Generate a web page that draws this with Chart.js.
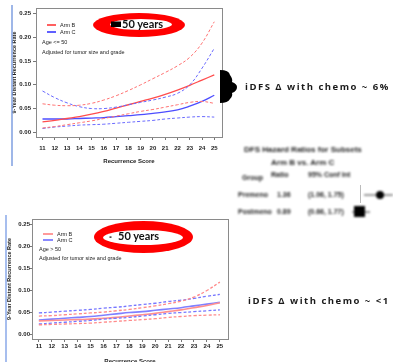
<!DOCTYPE html>
<html>
<head>
<meta charset="utf-8">
<script src="https://cdn.jsdelivr.net/npm/chart.js"></script>
<style>
  body { margin: 0; width: 393px; height: 362px; overflow: hidden; background: #fff; position: relative;
         font-family: "Liberation Sans", Arial, sans-serif; }
  .abs { position: absolute; white-space: nowrap; }
  .note { font-size: 5.5px; line-height: 6px; color: #222; }
  .key { position: absolute; height: 1.5px; }
  .age { font-family: Lato, "Open Sans", sans-serif; font-weight: bold; font-size: 11px; line-height: 12px; color: #111; }
  .idfs { font-family: "Open Sans", sans-serif; font-weight: bold; font-size: 9.5px; line-height: 12px;
          letter-spacing: 1.5px; color: #1a1a1a; }
  .blur { filter: blur(1.3px); font-weight: bold; font-size: 7px; line-height: 8px; color: #222; }
  .blur.big { font-size: 8px; }
</style>
</head>
<body>

<div class="abs" style="left:0;top:0"><canvas id="youngChart" width="240" height="170"></canvas></div>
<div class="abs" style="left:0;top:210px"><canvas id="olderChart" width="240" height="160"></canvas></div>

<svg class="abs" style="left:0;top:0" width="393" height="362">
  <line x1="12" y1="5" x2="12" y2="166" stroke="#7f9fe0" stroke-width="1.5"/>
  <line x1="6" y1="215" x2="6" y2="362" stroke="#8aa8e8" stroke-width="1.5"/>
  <ellipse cx="139" cy="25" rx="46" ry="12" fill="#ff0000"/>
  <ellipse cx="141" cy="24.5" rx="31" ry="5.5" fill="#fff"/>
  <rect x="111" y="21.5" width="10" height="5.5" fill="#000"/>
  <ellipse cx="143.5" cy="237" rx="49.5" ry="16" fill="#ff0000"/>
  <ellipse cx="143" cy="237.5" rx="40" ry="7.5" fill="#fff"/>
  <rect x="109.5" y="236.5" width="2" height="1.2" fill="#000"/>
  <path d="M220,70 Q229,70 230,75 Q233,79 232,82 Q237,84 237,87 Q237,91 232,93 Q233,96 230,99 Q228,103 220,103 Z" fill="#000"/>
  <line x1="360.5" y1="185" x2="360.5" y2="203" stroke="#bbb" stroke-width="1"/>
</svg>

<div class="key" style="left:47px;top:24px;width:9px;background:#ff6060"></div>
<div class="key" style="left:47px;top:31px;width:9px;background:#6060ff"></div>
<div class="abs note" style="left:60px;top:22px">Arm B</div>
<div class="abs note" style="left:60px;top:29px">Arm C</div>
<div class="abs note" style="left:42px;top:39px">Age &lt;= 50</div>
<div class="abs note" style="left:42px;top:49px">Adjusted for tumor size and grade</div>

<div class="key" style="left:43px;top:233px;width:10px;background:#ff9a9a"></div>
<div class="key" style="left:43px;top:239px;width:10px;background:#8a8aff"></div>
<div class="abs note" style="left:57px;top:231px">Arm B</div>
<div class="abs note" style="left:57px;top:237px">Arm C</div>
<div class="abs note" style="left:39px;top:246px">Age &gt; 50</div>
<div class="abs note" style="left:39px;top:255px">Adjusted for tumor size and grade</div>

<div class="abs age" style="left:122px;top:18px">50 years</div>
<div class="abs age" style="left:118px;top:230px">50 years</div>

<div class="abs idfs" style="left:245px;top:81px">iDFS Δ with chemo ~ 6%</div>
<div class="abs idfs" style="left:248px;top:295px">iDFS Δ with chemo ~ &lt;1</div>

<div class="abs blur big" style="left:244px;top:146px">DFS Hazard Ratios for Subsets</div>
<div class="abs blur big" style="left:271px;top:159px">Arm B vs. Arm C</div>
<div class="abs blur" style="left:242px;top:174px">Group</div>
<div class="abs blur" style="left:271px;top:171px">Ratio</div>
<div class="abs blur" style="left:308px;top:171px">95% Conf Int</div>
<div class="abs blur" style="left:238px;top:191px">Premeno</div>
<div class="abs blur" style="left:277px;top:191px">1.36</div>
<div class="abs blur" style="left:308px;top:191px">(1.06, 1.75)</div>
<div class="abs blur" style="left:238px;top:208px">Postmeno</div>
<div class="abs blur" style="left:277px;top:208px">0.89</div>
<div class="abs blur" style="left:308px;top:208px">(0.66, 1.77)</div>
<svg class="abs" style="left:0;top:0;filter:blur(1px)" width="393" height="362">
  <line x1="364" y1="195" x2="393" y2="195" stroke="#333" stroke-width="1"/>
  <circle cx="380" cy="195" r="4" fill="#000"/>
  <line x1="352" y1="212" x2="370" y2="212" stroke="#333" stroke-width="1"/>
  <rect x="354" y="206" width="11" height="11" fill="#000"/>
</svg>

<script>
// === DATA ===
const scores = [11, 12, 13, 14, 15, 16, 17, 18, 19, 20, 21, 22, 23, 24, 25];
const yTicks = [0, 0.05, 0.10, 0.15, 0.20, 0.25];

// Age <= 50
const youngArmB      = [0.022, 0.025, 0.029, 0.033, 0.038, 0.044, 0.051, 0.058, 0.065, 0.072, 0.080, 0.089, 0.099, 0.110, 0.121];
const youngArmBUpper = [0.060, 0.057, 0.056, 0.057, 0.061, 0.068, 0.077, 0.088, 0.100, 0.113, 0.126, 0.140, 0.158, 0.188, 0.233];
const youngArmBLower = [0.009, 0.012, 0.016, 0.020, 0.024, 0.029, 0.034, 0.039, 0.044, 0.048, 0.053, 0.058, 0.063, 0.065, 0.061];
const youngArmC      = [0.028, 0.028, 0.028, 0.029, 0.030, 0.031, 0.033, 0.035, 0.037, 0.040, 0.043, 0.047, 0.055, 0.065, 0.078];
const youngArmCUpper = [0.087, 0.073, 0.062, 0.054, 0.050, 0.050, 0.053, 0.058, 0.063, 0.068, 0.074, 0.082, 0.100, 0.135, 0.177];
const youngArmCLower = [0.008, 0.011, 0.013, 0.015, 0.016, 0.017, 0.019, 0.021, 0.023, 0.025, 0.028, 0.030, 0.032, 0.033, 0.032];

// Age > 50
const olderArmB      = [0.031, 0.032, 0.033, 0.034, 0.035, 0.037, 0.039, 0.042, 0.045, 0.048, 0.052, 0.056, 0.061, 0.066, 0.072];
const olderArmBUpper = [0.042, 0.043, 0.045, 0.047, 0.049, 0.051, 0.054, 0.057, 0.061, 0.065, 0.070, 0.076, 0.085, 0.100, 0.119];
const olderArmBLower = [0.022, 0.023, 0.024, 0.025, 0.026, 0.028, 0.030, 0.032, 0.034, 0.036, 0.039, 0.041, 0.043, 0.044, 0.045];
const olderArmC      = [0.033, 0.035, 0.037, 0.039, 0.041, 0.044, 0.047, 0.050, 0.052, 0.055, 0.058, 0.061, 0.065, 0.069, 0.073];
const olderArmCUpper = [0.049, 0.051, 0.053, 0.055, 0.057, 0.060, 0.062, 0.065, 0.068, 0.071, 0.075, 0.078, 0.082, 0.087, 0.091];
const olderArmCLower = [0.024, 0.026, 0.028, 0.030, 0.032, 0.035, 0.037, 0.039, 0.042, 0.045, 0.048, 0.050, 0.052, 0.054, 0.056];

// === HELPERS ===
function series(values, color, width, dashed) {
  return {
    data: scores.map((s, i) => ({ x: s, y: values[i] })),
    borderColor: color,
    borderWidth: width,
    borderDash: dashed ? [3, 2] : [],
    pointRadius: 0,
    tension: 0.4,
    fill: false
  };
}

// grey frame round the plot area, like the R plot box
const boxPlugin = {
  id: "box",
  afterDraw(chart) {
    const a = chart.chartArea, ctx = chart.ctx;
    ctx.save();
    ctx.strokeStyle = "#8a8a8a";
    ctx.lineWidth = 1;
    ctx.strokeRect(Math.round(a.left) + 0.5, Math.round(a.top) + 0.5,
                   Math.round(a.right - a.left), Math.round(a.bottom - a.top));
    ctx.restore();
  }
};

function options(o) {
  const tickFont = { size: 6, weight: "bold", family: "Liberation Sans" };
  return {
    responsive: false,
    animation: false,
    layout: { padding: { top: o.top, right: o.right, left: 0, bottom: 0 } },
    plugins: { legend: { display: false }, tooltip: { enabled: false } },
    scales: {
      x: {
        type: "linear", min: 10.47, max: 25.63,
        afterBuildTicks: axis => { axis.ticks = scores.map(v => ({ value: v })); },
        afterFit: s => { s.height = o.xHeight; },
        border: { display: false },
        grid: { drawOnChartArea: false, tickLength: 3, color: "#777" },
        ticks: { font: tickFont, color: "#222", padding: o.xPad, maxRotation: 0, callback: v => v },
        title: { display: true, text: "Recurrence Score", font: tickFont, color: "#222",
                 padding: { top: 0, bottom: o.xTitlePad } }
      },
      y: {
        min: -0.01, max: 0.262,
        afterBuildTicks: axis => { axis.ticks = yTicks.map(v => ({ value: v })); },
        afterFit: s => { s.width = o.yWidth; },
        border: { display: false },
        grid: { drawOnChartArea: false, tickLength: o.yTick, color: "#777" },
        ticks: { font: tickFont, color: "#222", padding: o.yPad, callback: v => v.toFixed(2) },
        title: { display: true, text: "9-Year Distant Recurrence Rate",
                 font: { size: 5.5, weight: "bold", family: "Liberation Sans" }, color: "#222",
                 padding: { top: o.yTitlePad, bottom: 0 } }
      }
    }
  };
}

// === CHART 1: Age <= 50 ===
new Chart(document.getElementById("youngChart"), {
  type: "line",
  data: {
    datasets: [
      series(youngArmBUpper, "#ff7272", 1, true),
      series(youngArmBLower, "#ff7272", 1, true),
      series(youngArmCUpper, "#6a6aff", 1, true),
      series(youngArmCLower, "#6a6aff", 1, true),
      series(youngArmB, "#ff4d4d", 1.3, false),
      series(youngArmC, "#4d4dff", 1.3, false)
    ]
  },
  options: options({ top: 8, right: 18, xHeight: 33, yWidth: 36, xPad: 5, xTitlePad: 5,
                     yTick: 3, yPad: 2, yTitlePad: 11 }),
  plugins: [boxPlugin]
});

// === CHART 2: Age > 50 ===
new Chart(document.getElementById("olderChart"), {
  type: "line",
  data: {
    datasets: [
      series(olderArmBUpper, "#ff8a8a", 1.3, true),
      series(olderArmBLower, "#ff8a8a", 1.3, true),
      series(olderArmCUpper, "#7777ff", 1.3, true),
      series(olderArmCLower, "#7777ff", 1.3, true),
      series(olderArmB, "#ff8f8f", 1.6, false),
      series(olderArmC, "#8080ff", 1.6, false)
    ]
  },
  options: options({ top: 9, right: 12, xHeight: 31, yWidth: 32, xPad: 1, xTitlePad: 5,
                     yTick: 2, yPad: 0, yTitlePad: 6 }),
  plugins: [boxPlugin]
});
</script>
</body>
</html>
